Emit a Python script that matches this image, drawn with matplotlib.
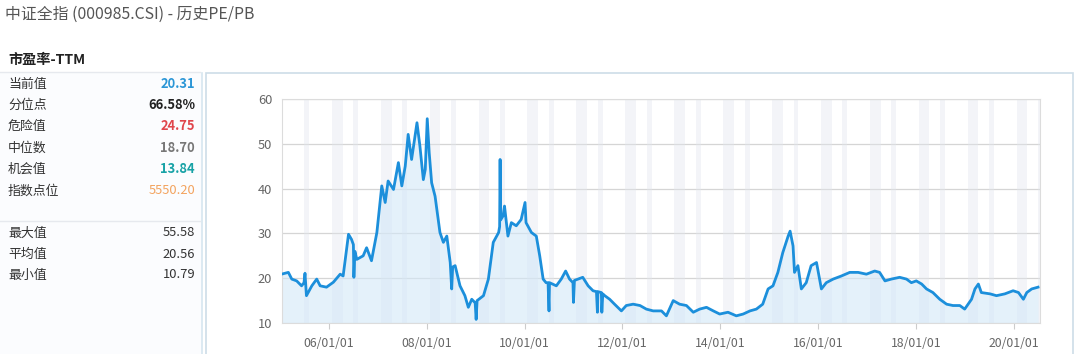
import matplotlib
matplotlib.use("Agg")
import matplotlib.pyplot as plt
from matplotlib.patches import Rectangle
from matplotlib.lines import Line2D

plt.rcParams['font.family'] = ['Noto Sans CJK SC', 'DejaVu Sans']

# --- data (decimal year, PE-TTM) --------------------------------------------
years = [2005.03, 2005.17, 2005.24, 2005.34, 2005.44, 2005.49, 2005.51, 2005.54,
         2005.65, 2005.75, 2005.82, 2005.95, 2006.09, 2006.23, 2006.29, 2006.40,
         2006.46, 2006.50, 2006.51, 2006.53, 2006.57, 2006.70, 2006.77, 2006.87,
         2006.98, 2007.08, 2007.15, 2007.21, 2007.32, 2007.42, 2007.49, 2007.56,
         2007.62, 2007.69, 2007.80, 2007.86, 2007.93, 2007.97, 2008.01, 2008.05,
         2008.10, 2008.17, 2008.27, 2008.34, 2008.41, 2008.48, 2008.51, 2008.53,
         2008.58, 2008.68, 2008.78, 2008.85, 2008.92, 2008.99, 2009.01, 2009.03,
         2009.16, 2009.26, 2009.36, 2009.47, 2009.49, 2009.50, 2009.51, 2009.56,
         2009.59, 2009.66, 2009.73, 2009.83, 2009.93, 2010.01, 2010.03, 2010.14,
         2010.24, 2010.31, 2010.38, 2010.44, 2010.48, 2010.50, 2010.51, 2010.65,
         2010.75, 2010.84, 2010.92, 2010.99, 2011.00, 2011.02, 2011.19, 2011.30,
         2011.40, 2011.47, 2011.49, 2011.50, 2011.57, 2011.58, 2011.60, 2011.64,
         2011.74, 2011.84, 2011.98, 2012.08, 2012.22, 2012.36, 2012.49, 2012.63,
         2012.80, 2012.90, 2013.04, 2013.17, 2013.31, 2013.45, 2013.58, 2013.72,
         2013.86, 2013.99, 2014.16, 2014.33, 2014.47, 2014.61, 2014.74, 2014.87,
         2014.98, 2015.08, 2015.18, 2015.28, 2015.39, 2015.43, 2015.49, 2015.52,
         2015.59, 2015.66, 2015.76, 2015.86, 2015.97, 2016.07, 2016.17, 2016.31,
         2016.48, 2016.65, 2016.82, 2016.99, 2017.16, 2017.26, 2017.37, 2017.50,
         2017.67, 2017.81, 2017.91, 2018.01, 2018.12, 2018.22, 2018.35, 2018.49,
         2018.63, 2018.76, 2018.90, 2019.00, 2019.14, 2019.21, 2019.28, 2019.34,
         2019.52, 2019.65, 2019.82, 2019.99, 2020.10, 2020.20, 2020.27, 2020.37,
         2020.50]
pe = [20.9, 21.3, 19.8, 19.4, 18.3, 19.0, 21.1, 16.1,
      18.3, 19.8, 18.3, 18.0, 19.1, 20.9, 20.5, 29.8,
      28.7, 27.5, 20.2, 26.0, 24.2, 25.0, 26.8, 23.9,
      30.2, 40.6, 36.9, 41.7, 39.8, 45.8, 40.6, 45.0,
      52.1, 46.5, 54.7, 49.5, 42.0, 44.3, 55.6, 48.0,
      41.3, 38.3, 30.2, 28.0, 29.4, 23.5, 17.6, 22.5,
      22.8, 18.3, 16.1, 13.5, 15.3, 14.5, 10.8, 15.0,
      16.1, 19.8, 28.0, 30.2, 31.5, 46.5, 33.0, 33.9,
      36.1, 29.4, 32.4, 31.7, 33.1, 36.9, 32.4, 30.2,
      29.4, 25.0, 19.8, 19.0, 19.0, 12.7, 19.0, 18.3,
      19.8, 21.6, 19.8, 19.0, 14.6, 19.5, 20.2, 18.3,
      17.2, 17.0, 12.4, 17.0, 16.8, 12.4, 16.5, 16.1,
      15.3, 14.2, 12.7, 13.9, 14.2, 13.9, 13.1, 12.7,
      12.7, 11.6, 15.0, 14.2, 13.9, 12.4, 13.1, 13.5,
      12.7, 12.0, 12.4, 11.6, 12.0, 12.7, 13.1, 14.2,
      17.6, 18.3, 21.3, 25.7, 29.4, 30.5, 27.2, 21.3,
      22.8, 17.6, 19.0, 22.8, 23.5, 17.6, 19.0, 19.8,
      20.5, 21.3, 21.3, 20.9, 21.6, 21.3, 19.4, 19.8,
      20.2, 19.8, 19.0, 19.4, 18.7, 17.6, 16.8, 15.3,
      14.2, 13.9, 13.9, 13.1, 15.3, 17.6, 18.7, 16.8,
      16.5, 16.1, 16.5, 17.2, 16.8, 15.3, 16.8, 17.6,
      18.0]

tick_years = [2006, 2008, 2010, 2012, 2014, 2016, 2018, 2020]
tick_labels = ["06/01/01", "08/01/01", "10/01/01", "12/01/01",
               "14/01/01", "16/01/01", "18/01/01", "20/01/01"]
y_ticks = [10, 20, 30, 40, 50, 60]

stat_labels = ["当前值", "分位点", "危险值", "中位数", "机会值", "指数点位"]
stat_values = ["20.31", "66.58%", "24.75", "18.70", "13.84", "5550.20"]
stat_colors = ["#2b96d6", "#222222", "#e0464c", "#777777", "#17a2a6", "#f3a35e"]
stat_bold = [True, True, True, True, True, False]

range_labels = ["最大值", "平均值", "最小值"]
range_values = ["55.58", "20.56", "10.79"]

W, H = 1080, 354
fig = plt.figure(figsize=(W / 100, H / 100), dpi=100)
fig.patch.set_facecolor("white")


def fx(px):
    return px / W


def fy(py):
    return 1 - py / H


# left panel background + borders
fig.add_artist(Rectangle((0, 0), fx(202), fy(73), transform=fig.transFigure,
                         facecolor="#fbfcfe", edgecolor="none", zorder=0))
fig.add_artist(Line2D([fx(202), fx(202)], [0, fy(73)], transform=fig.transFigure,
                      color="#d6e6f0", lw=1.2))
fig.add_artist(Line2D([0, fx(200)], [fy(72), fy(72)], transform=fig.transFigure,
                      color="#e6e9ee", lw=1))
fig.add_artist(Line2D([0, fx(200)], [fy(221), fy(221)], transform=fig.transFigure,
                      color="#e6e9ee", lw=1))
# chart panel border
fig.add_artist(Rectangle((fx(206), -0.05), fx(1073 - 206), fy(73) + 0.05,
                         transform=fig.transFigure, facecolor="white",
                         edgecolor="#cddde8", lw=1.2, zorder=0))

fig.text(fx(5), fy(14), "中证全指 (000985.CSI) - 历史PE/PB", fontsize=11.4,
         color="#555555", va="center", ha="left")
fig.text(fx(8), fy(60), "市盈率-TTM", fontsize=10.2, fontweight="bold",
         color="#222222", va="center", ha="left")

row_y = [84, 105, 126, 148, 169, 191]
for lab, val, col, b, yy in zip(stat_labels, stat_values, stat_colors, stat_bold, row_y):
    fig.text(fx(8), fy(yy), lab, fontsize=9.3, color="#333333", va="center")
    fig.text(fx(195), fy(yy), val, fontsize=9.3, color=col, va="center", ha="right",
             fontweight="bold" if b else "normal")
for lab, val, yy in zip(range_labels, range_values, [233, 254, 275]):
    fig.text(fx(8), fy(yy), lab, fontsize=9.3, color="#333333", va="center")
    fig.text(fx(195), fy(yy), val, fontsize=9.3, color="#333333", va="center", ha="right")

# --- chart ------------------------------------------------------------------
ax = fig.add_axes([fx(282), 1 - 323 / H, fx(1040 - 282), (323 - 99) / H])
x0, x1 = 2005.04, 2020.54

for yr in range(2005, 2021):
    for a, b in ((yr + 0.06, yr + 0.28), (yr + 0.50, yr + 0.60)):
        if a > x0 + 0.2 and a < x1:
            ax.axvspan(a, min(b, x1), color="#e2e5ee", alpha=0.4, lw=0, zorder=1)

ax.fill_between(years, pe, 10, color="#d3e8f8", alpha=0.6, lw=0, zorder=2)
ax.plot(years, pe, color="#1c8fdb", lw=2.0, zorder=4)

ax.set_xlim(x0, x1)
ax.set_ylim(10, 60)
ax.set_yticks(y_ticks)
ax.set_xticks(tick_years)
ax.set_xticklabels(tick_labels)
ax.grid(axis="y", color="#d5d5d5", lw=0.9, zorder=0)
ax.set_axisbelow(True)
for s in ax.spines.values():
    s.set_color("#dcdcdc")
    s.set_linewidth(0.8)
ax.tick_params(axis="y", length=0, pad=7, labelsize=9.3, labelcolor="#666666")
ax.tick_params(axis="x", length=4, color="#cccccc", pad=6, labelsize=8.8,
               labelcolor="#666666")

fig.savefig("out.png", dpi=100)
